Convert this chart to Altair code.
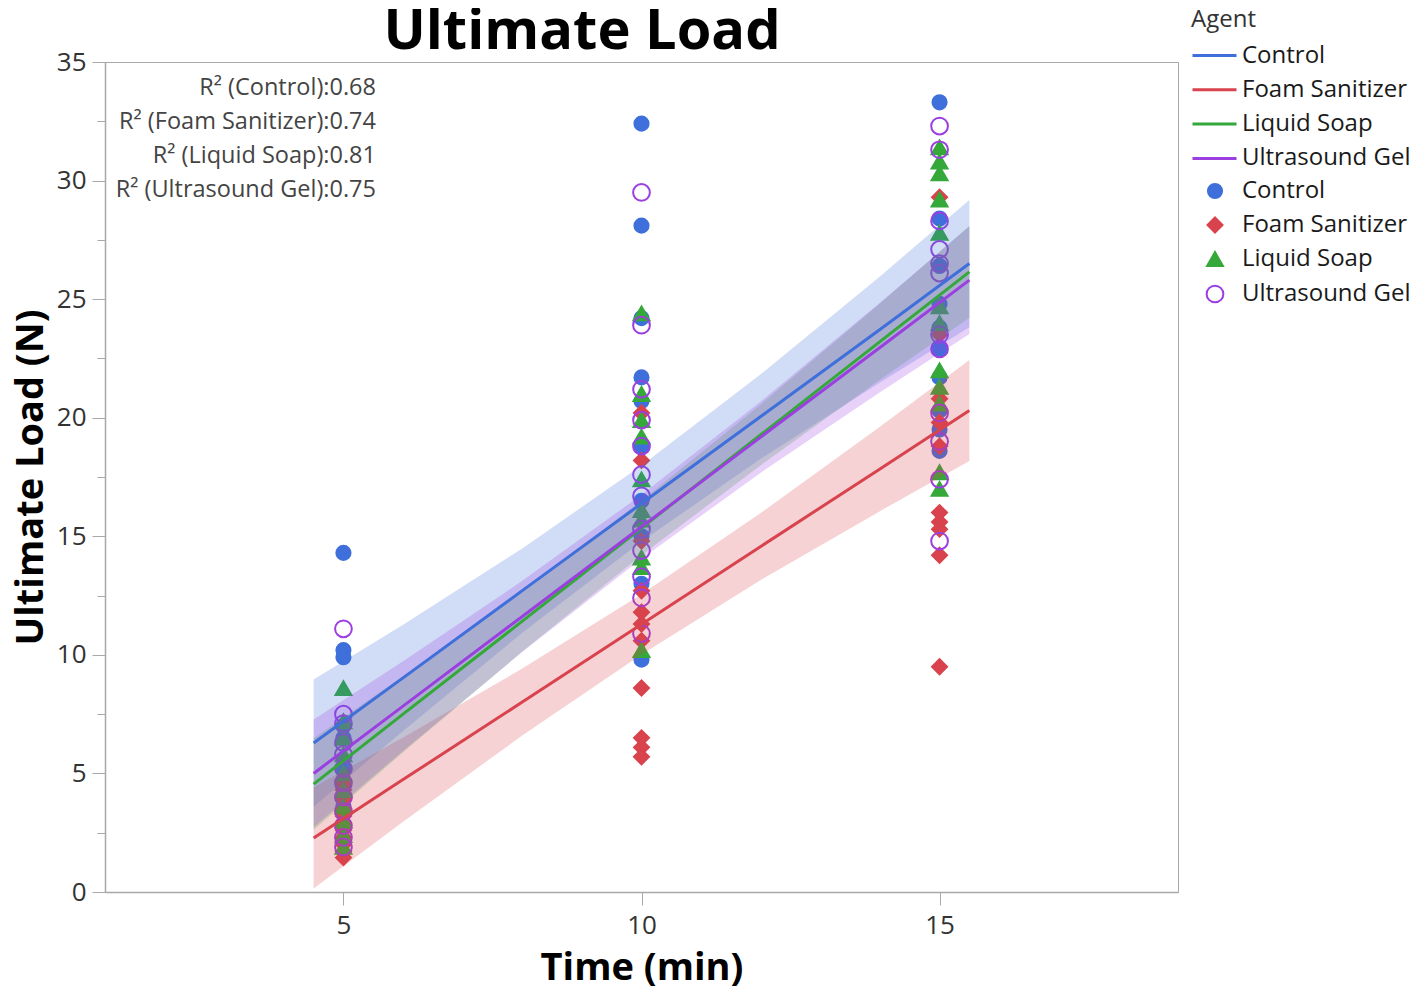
import altair as alt
import pandas as pd

agents = ["Control", "Foam Sanitizer", "Liquid Soap", "Ultrasound Gel"]
colors = ["#3F6FDB", "#D8434D", "#35A83A", "#9B3FE0"]
shapes = ["circle", "diamond", "triangle-up", "circle"]
fills = ["#3F6FDB", "#D8434D", "#35A83A", "transparent"]
sizes = [200, 280, 240, 190]

# observed Ultimate Load (N) per agent and time (min)
control_t5 = [14.3, 10.2, 9.9, 7.0, 6.5, 5.2, 4.4, 3.6, 2.8, 2.2]
control_t10 = [32.4, 28.1, 24.2, 21.7, 20.7, 18.8, 16.5, 15.0, 13.0, 9.8]
control_t15 = [33.3, 28.4, 26.4, 24.8, 23.8, 22.9, 21.7, 20.3, 19.5, 18.6]

foam_t5 = [4.6, 4.3, 3.9, 3.5, 3.2, 2.9, 2.6, 2.3, 2.0, 1.7, 1.45]
foam_t10 = [20.2, 18.2, 14.8, 12.7, 11.8, 11.3, 10.6, 8.6, 6.5, 6.1, 5.7]
foam_t15 = [29.3, 23.5, 20.8, 19.8, 18.8, 16.0, 15.6, 15.3, 14.2, 9.5]

liquid_t5 = [8.6, 7.2, 6.5, 5.8, 5.0, 4.3, 3.6, 3.0, 2.4, 1.9]
liquid_t10 = [24.4, 21.0, 19.9, 19.2, 17.4, 16.1, 15.7, 14.1, 13.7, 10.2]
liquid_t15 = [31.4, 30.8, 30.3, 29.2, 27.8, 24.7, 24.0, 22.0, 21.3, 20.6, 17.7, 17.0]

ultra_t5 = [11.1, 7.5, 7.1, 6.3, 5.8, 5.2, 4.6, 4.0, 3.4, 2.8, 2.3, 1.9]
ultra_t10 = [29.5, 23.9, 21.2, 19.9, 18.8, 17.6, 16.7, 15.3, 14.4, 13.3, 12.4, 10.9]
ultra_t15 = [32.3, 31.3, 28.3, 27.1, 26.5, 26.1, 23.5, 22.9, 20.2, 19.0, 17.4, 14.8]

# fitted lines and confidence bands
fit_x = [4.5, 6, 8, 10, 12, 14, 15.5]
control_fit = [6.28, 9.03, 12.71, 16.38, 20.05, 23.72, 26.50]
control_lo = [3.60, 6.79, 10.93, 14.78, 18.27, 21.48, 23.82]
control_hi = [8.96, 11.27, 14.49, 17.98, 21.83, 25.96, 29.18]
foam_fit = [2.28, 4.74, 8.01, 11.29, 14.57, 17.84, 20.30]
foam_lo = [0.15, 2.96, 6.60, 10.02, 13.16, 16.06, 18.17]
foam_hi = [4.41, 6.52, 9.42, 12.56, 15.98, 19.62, 22.43]
liquid_fit = [4.55, 7.50, 11.42, 15.35, 19.28, 23.21, 26.15]
liquid_lo = [2.62, 5.89, 10.14, 14.20, 18.00, 21.60, 24.22]
liquid_hi = [6.48, 9.11, 12.70, 16.50, 20.56, 24.82, 28.08]
ultra_fit = [5.00, 7.84, 11.62, 15.40, 19.18, 22.96, 25.80]
ultra_lo = [2.73, 5.95, 10.12, 14.05, 17.68, 21.07, 23.53]
ultra_hi = [7.27, 9.73, 13.12, 16.75, 20.68, 24.85, 28.07]

r2_labels = [
    "R\u00b2 (Control):0.68",
    "R\u00b2 (Foam Sanitizer):0.74",
    "R\u00b2 (Liquid Soap):0.81",
    "R\u00b2 (Ultrasound Gel):0.75",
]
chart_title = "Ultimate Load"

obs = {
    "Control": [control_t5, control_t10, control_t15],
    "Foam Sanitizer": [foam_t5, foam_t10, foam_t15],
    "Liquid Soap": [liquid_t5, liquid_t10, liquid_t15],
    "Ultrasound Gel": [ultra_t5, ultra_t10, ultra_t15],
}
rows = []
for a in agents:
    for t, vals in zip([5, 10, 15], obs[a]):
        for v in vals:
            rows.append({"Agent": a, "Time": t, "Load": v})
pts_df = pd.DataFrame(rows)

fits = {
    "Control": (control_fit, control_lo, control_hi),
    "Foam Sanitizer": (foam_fit, foam_lo, foam_hi),
    "Liquid Soap": (liquid_fit, liquid_lo, liquid_hi),
    "Ultrasound Gel": (ultra_fit, ultra_lo, ultra_hi),
}
frows = []
for a in agents:
    f, lo, hi = fits[a]
    for x, fv, l, h in zip(fit_x, f, lo, hi):
        frows.append({"Agent": a, "Time": x, "fit": fv, "lo": l, "hi": h})
fit_df = pd.DataFrame(frows)

FONT = "Open Sans"
GRAY = "#a8a8a8"

x_axis = alt.Axis(values=[5, 10, 15], tickSize=13, tickColor=GRAY, domainColor=GRAY,
                  domainWidth=1.5, labelFontSize=26, labelColor="#333", labelPadding=7,
                  labelFont=FONT, title="Time (min)", titleFont=FONT, titleFontSize=38,
                  titleFontWeight="bold", titleColor="black", titlePadding=11, grid=False)
y_axis = alt.Axis(values=[i * 2.5 for i in range(15)],
                  labelExpr="datum.value % 5 === 0 ? datum.label : ''",
                  tickSize={"condition": {"test": "datum.value % 5 === 0", "value": 13}, "value": 8},
                  tickColor=GRAY, domainColor=GRAY, domainWidth=1.5, labelFontSize=26,
                  labelColor="#333", labelPadding=6, labelFont=FONT, title="Ultimate Load (N)",
                  titleFont=FONT, titleFontSize=38, titleFontWeight="bold", titleColor="black",
                  titlePadding=6, grid=False)

def X():
    return alt.X("Time:Q", scale=alt.Scale(domain=[1, 19], nice=False), axis=x_axis, title="Time (min)")

def Y(field):
    return alt.Y(field, scale=alt.Scale(domain=[0, 35], nice=False), axis=y_axis, title="Ultimate Load (N)")

pt_legend = alt.Legend(title=None, orient="none", legendX=1098, legendY=117, labelOffset=15,
                       rowPadding=10, labelFontSize=24, labelFont=FONT, labelColor="#1a1a1a",
                       labelLimit=400, symbolStrokeWidth=2, padding=0)

points = alt.Chart(pts_df).mark_point(filled=False, strokeWidth=2, opacity=1).encode(
    x=X(), y=Y("Load:Q"),
    stroke=alt.Stroke("Agent:N", scale=alt.Scale(range=colors), legend=pt_legend),
    fill=alt.Fill("Agent:N", scale=alt.Scale(range=fills), legend=pt_legend),
    shape=alt.Shape("Agent:N", scale=alt.Scale(range=shapes), legend=pt_legend),
    size=alt.Size("Agent:N", scale=alt.Scale(range=sizes), legend=pt_legend),
)

bands = [
    alt.Chart(fit_df).transform_filter(alt.datum.Agent == a)
    .mark_area(color=c, opacity=0.24)
    .encode(x=X(), y=Y("lo:Q"), y2="hi:Q")
    for a, c in zip(agents, colors)
]

line_legend = alt.Legend(title="Agent", orient="none", legendX=1086, legendY=-54,
                         symbolType="M-1,0H3", symbolSize=484, symbolStrokeWidth=3,
                         labelOffset=26, rowPadding=9.3, labelFontSize=24, labelFont=FONT,
                         labelColor="#1a1a1a", labelLimit=400, titleFontSize=24, titleFont=FONT,
                         titleFontWeight="normal", titleColor="#333", titlePadding=11, padding=0)

lines = alt.Chart(fit_df).mark_line(strokeWidth=3).encode(
    x=X(), y=Y("fit:Q"),
    color=alt.Color("Agent:N", scale=alt.Scale(range=colors), legend=line_legend),
)

r2 = alt.Chart(alt.Data(values=[{"k": 0}])).mark_text(
    align="right", baseline="top", lineHeight=34, fontSize=23.5, font=FONT, color="#444"
).encode(x=alt.value(271), y=alt.value(14), text=alt.value(r2_labels))

title_mark = alt.Chart(alt.Data(values=[{"k": 0}])).mark_text(
    align="center", baseline="alphabetic", fontSize=56, font=FONT, fontWeight="bold", color="black"
).encode(x=alt.value(477), y=alt.value(-13), text=alt.value(chart_title))

chart = alt.layer(points, *bands, lines, r2, title_mark).properties(
    width=1073, height=830,
    autosize=alt.AutoSizeParams(type="none"),
    padding={"left": 97, "top": 54, "right": 232, "bottom": 96},
).configure_view(stroke=GRAY, strokeWidth=1)

chart.save("out.html", embed_options={"renderer": "svg", "actions": False})
